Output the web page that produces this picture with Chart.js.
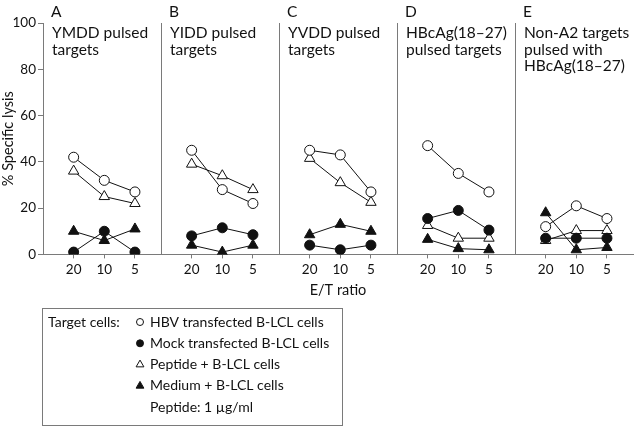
<!DOCTYPE html>
<html>
<head>
<meta charset="utf-8">
<script src="https://cdn.jsdelivr.net/npm/chart.js@4/dist/chart.umd.min.js"></script>
<style>
  body { margin: 0; background: #fff; }
  #wrap { width: 640px; height: 426px; }
</style>
</head>
<body>
<div id="wrap"><canvas id="chart"></canvas></div>
<script>
// E/T ratios shown in every panel
const ratios = ["20", "10", "5"];
const panelLetters = ["A", "B", "C", "D", "E"];
const panelTitles = [
  ["YMDD pulsed", "targets"],
  ["YIDD pulsed", "targets"],
  ["YVDD pulsed", "targets"],
  ["HBcAg(18\u201327)", "pulsed targets"],
  ["Non-A2 targets", "pulsed with", "HBcAg(18\u201327)"]
];
const yTicks = [0, 20, 40, 60, 80, 100];

// % specific lysis, one row per panel (A..E), columns follow ratios
const hbvTransfected = [[42, 32, 27], [45, 28, 22], [45, 43, 27], [47, 35, 27], [12, 21, 15.5]];
const mockTransfected = [[1, 10, 1], [8, 11.5, 8.5], [4, 2, 4], [15.5, 19, 10.5], [7, 7, 7]];
const peptideCells = [[36, 25, 22], [39, 34, 28], [41.5, 31, 22.5], [12.5, 7, 7], [6, 10.3, 10.3]];
const mediumCells = [[10, 6, 11], [4, 1, 4], [8.5, 13, 10], [6.5, 2.5, 2], [18, 2, 3]];

const seriesLabels = [
  "HBV transfected B-LCL cells",
  "Mock transfected B-LCL cells",
  "Peptide + B-LCL cells",
  "Medium + B-LCL cells"
];

const panelWidth = 3.85;
const FONT = "Lato, 'DejaVu Sans', sans-serif";
const INK = "#111";
const GREY = "#7a7a7a";

function seriesPoints(values) {
  const pts = [];
  values.forEach((row, p) => {
    row.forEach((v, i) => pts.push({ x: p * panelWidth + i + 1, y: v }));
    pts.push({ x: (p + 1) * panelWidth, y: null }); // break line between panels
  });
  return pts;
}

function makeDataset(label, values, style, filled) {
  const r = style === "triangle" ? 6 : 5;
  return {
    label: label,
    data: seriesPoints(values),
    borderColor: INK,
    borderWidth: 1,
    pointStyle: style,
    pointRadius: r,
    pointHoverRadius: r,
    pointBackgroundColor: filled ? INK : "#fff",
    pointBorderColor: INK,
    pointBorderWidth: 1,
    spanGaps: false
  };
}

const catTicks = [];
const dividerTicks = [];
panelLetters.forEach((_, p) => {
  ratios.forEach((_, i) => catTicks.push(p * panelWidth + i + 1));
  if (p > 0) dividerTicks.push(p * panelWidth);
});

// panel letters and titles
const panelText = {
  id: "panelText",
  afterDraw(chart) {
    const ctx = chart.ctx;
    const xs = chart.scales.x;
    ctx.save();
    ctx.fillStyle = INK;
    ctx.textBaseline = "middle";
    ctx.textAlign = "left";
    panelLetters.forEach((letter, p) => {
      const x0 = xs.getPixelForValue(p * panelWidth);
      ctx.font = "15.5px " + FONT;
      ctx.fillText(letter, x0 + 8, 12);
      panelTitles[p].forEach((line, j) => {
        ctx.fillText(line, x0 + 9, chart.chartArea.top + 10 + j * 16.5);
      });
    });
    ctx.restore();
  }
};

// boxed key under the plot
const keyBox = {
  id: "keyBox",
  afterDraw(chart) {
    const ctx = chart.ctx;
    const left = 42, top = 308, right = 342, bottom = 425;
    const rowY = 322, rowGap = 21.3;
    ctx.save();
    ctx.strokeStyle = GREY;
    ctx.lineWidth = 1;
    ctx.strokeRect(left + 0.5, top + 0.5, right - left, bottom - top);
    ctx.fillStyle = INK;
    ctx.font = "14px " + FONT;
    ctx.textBaseline = "middle";
    ctx.fillText("Target cells:", left + 6, rowY);
    chart.data.datasets.forEach((ds, i) => {
      const y = rowY + i * rowGap;
      ctx.fillStyle = ds.pointBackgroundColor;
      ctx.strokeStyle = ds.pointBorderColor;
      ctx.lineWidth = 1;
      Chart.helpers.drawPoint(ctx, {
        pointStyle: ds.pointStyle,
        radius: ds.pointStyle === "triangle" ? 4.5 : 3.5,
        rotation: 0,
        borderWidth: 1
      }, left + 98, y);
      ctx.fillStyle = INK;
      ctx.fillText(ds.label, left + 108, y);
    });
    ctx.fillText("Peptide: 1 \u00b5g/ml", left + 108, rowY + 4 * rowGap);
    ctx.restore();
  }
};

new Chart(document.getElementById("chart"), {
  type: "line",
  data: {
    datasets: [
      makeDataset(seriesLabels[0], hbvTransfected, "circle", false),
      makeDataset(seriesLabels[1], mockTransfected, "circle", true),
      makeDataset(seriesLabels[2], peptideCells, "triangle", false),
      makeDataset(seriesLabels[3], mediumCells, "triangle", true)
    ]
  },
  options: {
    responsive: true,
    maintainAspectRatio: false,
    animation: false,
    layout: { padding: { top: 23, right: 4, bottom: 127, left: 0 } },
    plugins: {
      legend: { display: false },
      tooltip: { enabled: false }
    },
    scales: {
      x: {
        type: "linear",
        min: 0,
        max: panelWidth * panelLetters.length,
        afterBuildTicks: (axis) => { axis.ticks = catTicks.map(v => ({ value: v })); },
        ticks: {
          autoSkip: false,
          maxRotation: 0,
          padding: 3,
          color: INK,
          font: { family: FONT, size: 13.5 },
          callback: (v) => ratios[Math.round(v % panelWidth) - 1]
        },
        grid: { drawOnChartArea: false, tickLength: 4, color: GREY },
        border: { color: GREY },
        title: {
          display: true,
          text: "E/T ratio",
          color: INK,
          font: { family: FONT, size: 14.5 },
          padding: { top: 1, bottom: 0 }
        }
      },
      x2: {
        type: "linear",
        position: "top",
        min: 0,
        max: panelWidth * panelLetters.length,
        afterBuildTicks: (axis) => { axis.ticks = dividerTicks.map(v => ({ value: v })); },
        ticks: { display: false },
        grid: { drawTicks: false, color: GREY, lineWidth: 1 },
        border: { display: false }
      },
      y: {
        min: 0,
        max: 100,
        afterBuildTicks: (axis) => { axis.ticks = yTicks.map(v => ({ value: v })); },
        afterFit: (axis) => { axis.width = 43; },
        ticks: {
          padding: 2,
          color: INK,
          font: { family: FONT, size: 13.5 }
        },
        grid: { drawOnChartArea: false, tickLength: 5, color: GREY },
        border: { color: GREY },
        title: {
          display: true,
          text: "% Specific lysis",
          color: INK,
          font: { family: FONT, size: 14.5 },
          padding: { top: 0, bottom: 0 }
        }
      }
    }
  },
  plugins: [panelText, keyBox]
});
</script>
</body>
</html>
